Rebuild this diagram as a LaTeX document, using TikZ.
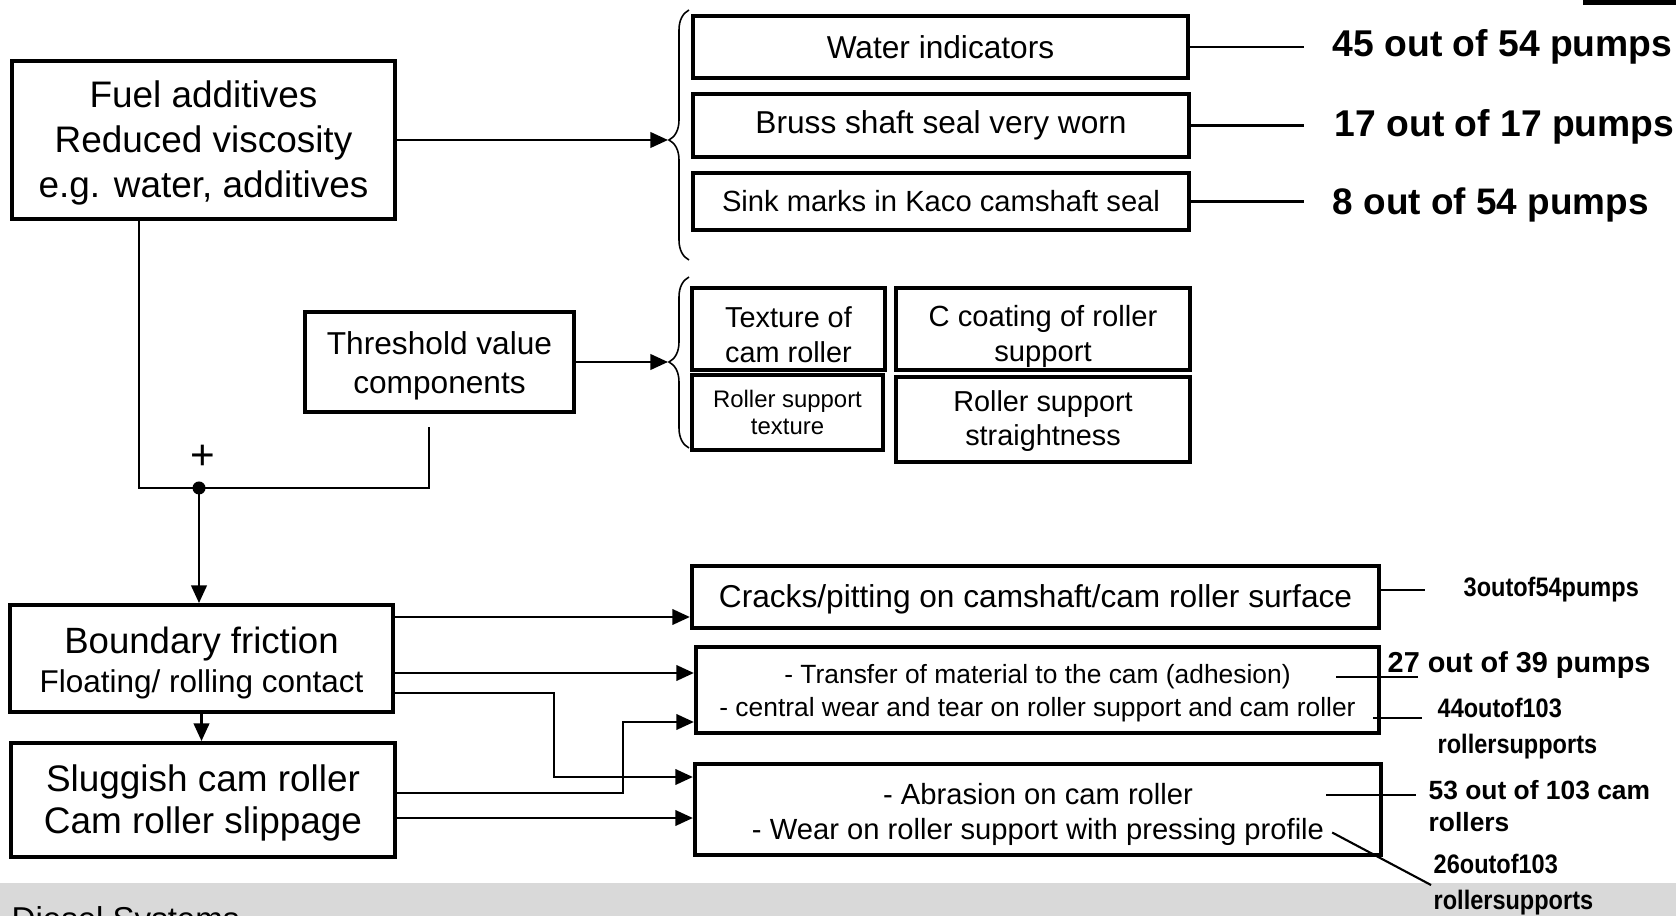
\documentclass[tikz,border=0pt]{standalone}
\usepackage{fontspec}
\setmainfont{Liberation Sans}
\newfontfamily\tightsans{Liberation Sans}[FakeStretch=0.88]
\usetikzlibrary{arrows.meta,calc,decorations.pathreplacing}
\newcommand\fsz[2]{\fontsize{#1}{#2}\selectfont}
\newcommand\lift[1]{\rule{0pt}{\dimexpr.73em+#1\relax}}
\tikzset{
  box/.style={draw, line width=1.1pt, align=center, inner sep=0pt},
  arr/.style={line width=0.7pt, -{Triangle[length=5pt,width=4.4pt]}},
  lead/.style={line width=0.6pt},
  feed/.style={line width=0.45pt},
  cbrace/.style={decorate, line width=0.45pt, decoration={brace, amplitude=0.2cm, aspect=#1}},
  num/.style 2 args={anchor=west, inner sep=0pt, align=left, font=\bfseries\fsz{#1}{#2}},
  tight/.style={anchor=west, inner sep=0pt, align=left, font=\tightsans\bfseries\fsz{7.6}{10.2}},
}
\begin{document}
\begin{tikzpicture}[x=0.01cm, y=-0.01cm]
\useasboundingbox (0,0) rectangle (1676,916);
\fill[black!15] (0,883) rectangle (1676,916);
\fill (1583,0) rectangle (1676,5);
\begin{scope}
\clip (0,883) rectangle (1676,916);
\node[anchor=base west, inner sep=0pt, font=\fsz{9.4}{11}] (brand) at (11,930) {Diesel Systems};
\end{scope}

\node[box, minimum width=3.83cm, minimum height=1.58cm, font=\fsz{10.5}{12.8}] (fuel) at (203.5,140) {\lift{1.8pt}Fuel additives\\Reduced viscosity\\e.g. water, additives};
\node[box, minimum width=4.95cm, minimum height=0.62cm, font=\fsz{9}{11}] (wat) at (940.5,47) {Water indicators};
\node[box, minimum width=4.96cm, minimum height=0.63cm, font=\fsz{9}{11}] (bru) at (941,125.5) {Bruss shaft seal very worn};
\node[box, minimum width=4.96cm, minimum height=0.57cm, font=\fsz{8.3}{10}] (snk) at (941,201.5) {Sink marks in Kaco camshaft seal};
\node[box, minimum width=2.69cm, minimum height=1cm, font=\fsz{9}{11.1}] (thr) at (439.5,362) {\lift{2.4pt}Threshold value\\components};
\node[box, minimum width=1.93cm, minimum height=0.82cm, font=\fsz{8.2}{10}] (tex) at (788.5,329) {\lift{3pt}Texture of\\cam roller};
\node[box, minimum width=1.91cm, minimum height=0.75cm, font=\fsz{6.8}{7.7}] (rst) at (787.5,412.5) {Roller support\\texture};
\node[box, minimum width=2.94cm, minimum height=0.82cm, font=\fsz{8.3}{10}] (cco) at (1043,329) {\lift{4.3pt}C coating of roller\\support};
\node[box, minimum width=2.94cm, minimum height=0.85cm, font=\fsz{8.2}{9.7}] (rss) at (1043,419.5) {\lift{1pt}Roller support\\straightness};
\node[box, minimum width=3.83cm, minimum height=1.07cm, font=\fsz{10.4}{11.1}] (bnd) at (201.5,658.5) {\lift{2.4pt}Boundary friction\\{\fsz{8.95}{11.1}Floating/ rolling contact}};
\node[box, minimum width=3.84cm, minimum height=1.14cm, font=\fsz{10.5}{11.9}] (slg) at (203,800) {\lift{1.8pt}Sluggish cam roller\\Cam roller slippage};
\node[box, minimum width=6.87cm, minimum height=0.62cm, font=\fsz{9}{11}] (crk) at (1035.5,597) {\lift{1pt}Cracks/pitting on camshaft/cam roller surface};
\node[box, minimum width=6.83cm, minimum height=0.86cm, font=\fsz{7.5}{9.4}] (trf) at (1037.5,690) {\lift{1.8pt}- Transfer of material to the cam (adhesion)\\- central wear and tear on roller support and cam roller};
\node[box, minimum width=6.86cm, minimum height=0.91cm, font=\fsz{8.3}{10}] (abr) at (1038,809.5) {\lift{3pt}- Abrasion on cam roller\\- Wear on roller support with pressing profile};

\node[num={10.6}{13}] (n45) at (1332,47) {45 out of 54 pumps};
\node[num={10.6}{13}] (n17) at (1334,127) {17 out of 17 pumps};
\node[num={10.5}{13}] (n8) at (1332,205) {8 out of 54 pumps};
\node[tight] (n3) at (1463,590) {3outof54pumps};
\node[num={8.2}{10}] (n27) at (1387,665) {27 out of 39 pumps};
\node[tight] (n44) at (1437,729) {44outof103\\rollersupports};
\node[num={7.5}{9.1}] (n53) at (1428,806) {53 out of 103 cam\\rollers};
\node[tight] (n26) at (1433,885) {26outof103\\rollersupports};

\coordinate (br1) at (668,140);
\coordinate (br2) at (668,362);
\coordinate (jn) at (199,488);
\coordinate (thr0) at (429,427);
\coordinate (b1) at ($(bnd.east)+(0,-41.5)$);
\coordinate (b2) at ($(bnd.east)+(0,14.5)$);
\coordinate (b3) at ($(bnd.east)+(0,34.5)$);
\coordinate (s1) at ($(slg.east)+(0,-7)$);
\coordinate (s2) at ($(slg.east)+(0,18)$);

\draw[cbrace=0.48] (689,260) -- (689,10);
\draw[cbrace=0.503] (689,448) -- (689,277);
\draw[arr] (fuel.east) -- (br1);
\draw[arr] (thr.east) -- (br2);

\draw[feed] ($(fuel.south west)+(129,0)$) |- (jn) -| (thr0);
\fill (jn) circle[radius=0.065cm];
\node[font=\fsz{12}{12}] (plus) at (203,457) {+};
\draw[arr] (jn) -- (jn |- bnd.north);
\draw[arr] (bnd.south) -- (bnd.south |- slg.north);

\draw[arr] (b1) -- (b1 -| crk.west);
\draw[arr] (b2) -- (b2 -| trf.west);
\draw[arr] (b3) -| ($(abr.west)+(-139,-32.5)$) -- ($(abr.west)+(0,-32.5)$);
\draw[arr] (s1) -| ($(trf.west)+(-71,32)$) -- ($(trf.west)+(0,32)$);
\draw[arr] (s2) -- (s2 -| abr.west);

\draw[lead, shorten >=0.28cm] (wat.east) -- (wat.east -| n45.west);
\draw[lead, shorten >=0.3cm] (bru.east) -- (bru.east -| n17.west);
\draw[lead, shorten >=0.28cm] (snk.east) -- (snk.east -| n8.west);
\draw[lead, shorten >=0.38cm] (crk.east |- n3.west) -- (n3.west);
\draw[lead] ($(trf.east)+(-45,-13)$) -- ($(n27.west)+(31,12)$);
\draw[lead] ($(trf.east)+(-8,28)$) -- ($(n44.west)+(-15,-11)$);
\draw[lead] ($(abr.east)+(-57,-14.5)$) -- ($(n53.west)+(-12,-11)$);
\draw[lead] ($(abr.east)+(-51,23)$) -- ($(n26.west)+(-2,0)$);
\end{tikzpicture}
\end{document}
